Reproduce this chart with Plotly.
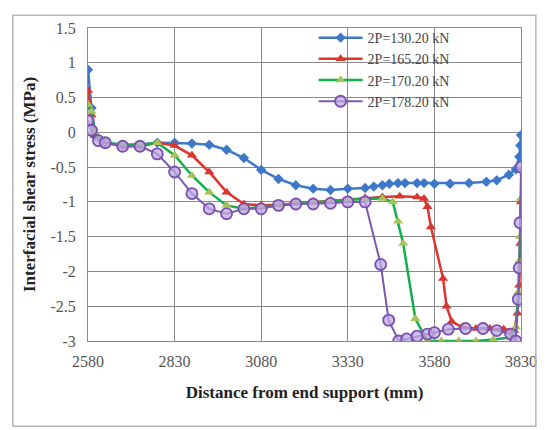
import plotly.graph_objects as go

# ---- data ----
x_tick_vals = [2580, 2830, 3080, 3330, 3580, 3830]
y_tick_vals = [1.5, 1, 0.5, 0, -0.5, -1, -1.5, -2, -2.5, -3]
y_tick_text = ["1.5", "1", "0.5", "0", "-0.5", "-1", "-1.5", "-2", "-2.5", "-3"]

names = ["2P=130.20 kN", "2P=165.20 kN", "2P=170.20 kN", "2P=178.20 kN"]

x_130 = [2580, 2590, 2600, 2630, 2680, 2730, 2780, 2830, 2880, 2930, 2980, 3030, 3080, 3130,
         3180, 3230, 3280, 3330, 3380, 3405, 3430, 3450, 3475, 3495, 3530, 3550, 3580, 3625,
         3680, 3730, 3760, 3795, 3815, 3825, 3828, 3830]
y_130 = [0.9, 0.35, -0.05, -0.15, -0.18, -0.18, -0.15, -0.15, -0.16, -0.18, -0.25, -0.37, -0.54, -0.67,
         -0.76, -0.81, -0.83, -0.81, -0.80, -0.78, -0.76, -0.74, -0.73, -0.73, -0.73, -0.73, -0.74, -0.74,
         -0.73, -0.71, -0.69, -0.61, -0.53, -0.35, -0.19, -0.04]

x_165 = [2580, 2590, 2600, 2630, 2680, 2730, 2780, 2830, 2880, 2930, 2980, 3030, 3080, 3130,
         3180, 3230, 3280, 3330, 3380, 3430, 3480, 3530, 3550, 3560, 3570, 3605, 3615, 3630,
         3660, 3700, 3740, 3780, 3810, 3820, 3825, 3828, 3830]
y_165 = [0.6, 0.25, -0.05, -0.15, -0.2, -0.2, -0.15, -0.19, -0.33, -0.57, -0.86, -1.03, -1.05, -1.04,
         -1.02, -1.0, -0.98, -0.96, -0.94, -0.93, -0.92, -0.93, -0.95, -1.07, -1.36, -2.1, -2.5, -2.72,
         -2.8, -2.82, -2.82, -2.83, -2.85, -2.6, -2.2, -1.6, -1.0]

x_170 = [2580, 2590, 2600, 2630, 2680, 2730, 2780, 2830, 2880, 2930, 2980, 3030, 3080, 3130,
         3180, 3230, 3280, 3330, 3380, 3430, 3460, 3475, 3490, 3525, 3560, 3600, 3650, 3700,
         3750, 3800, 3815, 3822, 3825, 3828, 3830]
y_170 = [0.4, 0.3, 0.0, -0.15, -0.18, -0.18, -0.15, -0.33, -0.62, -0.86, -1.05, -1.1, -1.07, -1.05,
         -1.02, -1.0, -0.98, -0.97, -0.96, -0.95, -1.0, -1.28, -1.6, -2.68, -3.0, -3.0, -3.0, -3.0,
         -2.98, -2.95, -2.8, -2.3, -1.85, -1.5, -0.95]

x_178 = [2580, 2590, 2610, 2630, 2680, 2730, 2780, 2830, 2880, 2930, 2980, 3030, 3080, 3130,
         3180, 3230, 3280, 3330, 3380, 3425, 3448, 3477, 3500, 3530, 3560, 3580, 3620, 3670,
         3720, 3760, 3800, 3815, 3822, 3825, 3827, 3830]
y_178 = [0.17, 0.03, -0.12, -0.15, -0.2, -0.2, -0.31, -0.57, -0.88, -1.1, -1.17, -1.1, -1.1, -1.05,
         -1.03, -1.03, -1.02, -1.0, -1.0, -1.9, -2.7, -3.0, -2.97, -2.93, -2.9, -2.88, -2.83, -2.82,
         -2.82, -2.85, -2.9, -3.0, -2.4, -1.95, -1.3, -0.5]

# ---- figure ----
fig = go.Figure()

fig.add_trace(go.Scatter(x=x_130, y=y_130, name=names[0], mode="lines+markers",
                         line=dict(color="#3d78c8", width=2.5),
                         marker=dict(symbol="diamond", size=8, color="#3d78c8")))
fig.add_trace(go.Scatter(x=x_165, y=y_165, name=names[1], mode="lines+markers",
                         line=dict(color="#e0342f", width=2.5),
                         marker=dict(symbol="triangle-up", size=9, color="#d8372f")))
fig.add_trace(go.Scatter(x=x_170, y=y_170, name=names[2], mode="lines+markers",
                         line=dict(color="#12b04a", width=2.5),
                         marker=dict(symbol="triangle-up", size=9, color="#a6c25a")))
fig.add_trace(go.Scatter(x=x_178, y=y_178, name=names[3], mode="lines+markers",
                         line=dict(color="#7a5aaa", width=2),
                         marker=dict(symbol="circle", size=11, color="rgba(190,170,225,0.75)",
                                     line=dict(color="#7a4fb0", width=1.8))))

grid = "#8a8a8a"
tick_font = dict(family="Liberation Serif", size=16, color="#555555")
title_font = dict(family="Liberation Serif", size=17, color="#222222", weight="bold")

fig.update_xaxes(range=[2580, 3830], tickvals=x_tick_vals, ticktext=[str(v) for v in x_tick_vals],
                 showgrid=True, gridcolor=grid, gridwidth=1, zeroline=False,
                 showline=True, linecolor=grid, linewidth=1, mirror=True,
                 ticks="", ticklabelstandoff=6, tickfont=tick_font,
                 title=dict(text="Distance from end support (mm)", standoff=16, font=title_font))
fig.update_yaxes(range=[-3, 1.5], tickvals=y_tick_vals, ticktext=y_tick_text,
                 showgrid=True, gridcolor=grid, gridwidth=1, zeroline=False,
                 showline=True, linecolor=grid, linewidth=1, mirror=True,
                 ticks="", ticklabelstandoff=8, tickfont=tick_font,
                 title=dict(text="Interfacial shear stress (MPa)", standoff=10, font=title_font))

# page body adds an 8px offset; plot area in figure pixels: l=80, t=14, r=518, b=333
pl, pt, pw, ph = 80, 14, 438, 319
fig.update_layout(
    width=541, height=422,
    margin=dict(l=pl, r=541 - pl - pw, t=pt, b=422 - pt - ph),
    paper_bgcolor="white", plot_bgcolor="white",
    font=dict(family="Liberation Serif"),
    legend=dict(x=0.521, y=1.019, xanchor="left", yanchor="top",
                bgcolor="rgba(0,0,0,0)", itemwidth=44, tracegroupgap=0,
                font=dict(family="Liberation Serif", size=14, color="#444444")),
    shapes=[dict(type="rect", xref="paper", yref="paper",
                 x0=(4 - pl) / pw, x1=(533 - pl) / pw,
                 y0=(pt + ph - 420) / ph, y1=(pt + ph - 1) / ph,
                 line=dict(color="#b5b5b5", width=1.5), layer="above")],
)

fig.write_html("out.html")
